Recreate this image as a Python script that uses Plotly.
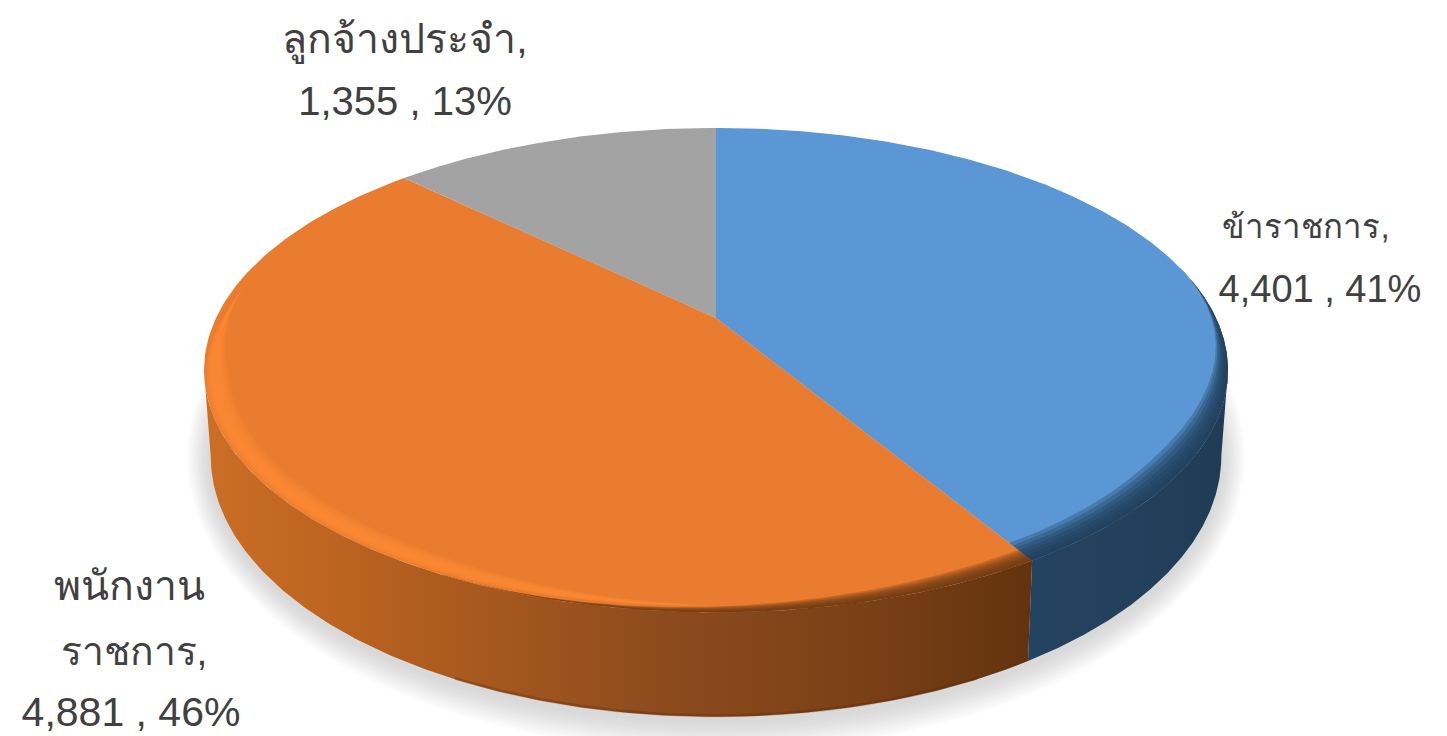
import numpy as np
import plotly.graph_objects as go

# ---- data ----
categories = ["ข้าราชการ", "พนักงานราชการ", "ลูกจ้างประจำ"]
values = [4401, 4881, 1355]

label_lines = [
    ["ข้าราชการ,"],
    ["พนักงาน", "ราชการ,"],
    ["ลูกจ้างประจำ,"],
]

# ---- styling / layout ----
W, H = 1447, 736
top_colors = ["#5A97D4", "#E97C2E", "#A3A3A3"]
side_scales = [
    [[0, "#244360"], [0.75, "#223F5A"], [1, "#1F3B55"]],
    [[0, "#CC6E25"], [0.22, "#B5601F"], [0.55, "#8D4B1D"], [0.8, "#7A4016"], [1, "#62330F"]],
    [[0, "#636363"], [1, "#636363"]],
]
label_xy = [
    [(1306, 230), (1320, 292)],
    [(129, 590), (134, 655), (131, 716)],
    [(405, 43), (405, 105)],
]
label_sizes = [
    [33, 38],
    [41, 39, 41],
    [41, 40],
]
CX, CY, A, B, K, DEPTH = 716, 318, 500, 231, 0.215, 82
FONT = "Liberation Sans, Noto Sans, sans-serif"


def rim(theta, r=1.0):
    u, v = r * np.sin(theta), r * np.cos(theta)
    w = 1 + K * v
    return CX + A * u / w, CY - B * v / w


def lower(theta):
    x, y = rim(theta)
    w = 1 + K * np.cos(theta)
    return CX + (x - CX) * 0.987, y + DEPTH / w


def smooth(s):
    s = np.clip(s, 0, 1)
    return s * s * (3 - 2 * s)


def band(t, r_out, r_in, color):
    xo, yo = rim(t, r_out)
    xi, yi = rim(t, r_in)
    fig.add_trace(go.Scatter(
        x=np.concatenate([xo, xi[::-1]]), y=np.concatenate([yo, yi[::-1]]),
        mode="lines", fill="toself", line_width=0, fillcolor=color, hoverinfo="skip"))


total = sum(values)
edges = np.concatenate([[0], np.cumsum(values)]) / total * 2 * np.pi
sil_r = np.arccos(-K)
sil_l = 2 * np.pi - sil_r

fig = go.Figure()

# soft ground shadow beneath the disc
all_t = np.linspace(0, 2 * np.pi, 361)
bx, by = lower(all_t)
for grow in np.linspace(32, 2, 14):
    sx = CX + (bx - CX) * (1 + grow * 0.75 / 510)
    sy = 480 + (by - 480) * (1 + grow / 240) + 4
    fig.add_trace(go.Scatter(x=sx, y=sy, mode="lines", fill="toself", line_width=0,
                             fillcolor="rgba(172,172,172,0.035)", hoverinfo="skip"))

# extruded side walls
for i in range(len(values)):
    t0, t1 = max(edges[i], sil_r), min(edges[i + 1], sil_l)
    if t1 <= t0:
        continue
    t = np.linspace(t0, t1, 160)
    xt, yt = rim(t)
    xb, yb = lower(t)
    fig.add_trace(go.Scatter(
        x=np.concatenate([xt, xb[::-1]]), y=np.concatenate([yt, yb[::-1]]),
        mode="lines", fill="toself", line_width=0,
        fillgradient=dict(type="horizontal", colorscale=side_scales[i]),
        hoverinfo="skip"))

# darker lip along the bottom edge of the orange wall (front centre only)
xb, yb = lower(np.linspace(np.pi * 0.86, np.pi * 1.14, 120))
fig.add_trace(go.Scatter(x=xb, y=yb - 1, mode="lines",
                         line=dict(width=3, color="rgba(90,40,8,0.3)"), hoverinfo="skip"))

# top faces
for i in range(len(values)):
    t = np.linspace(edges[i], edges[i + 1], 200)
    x, y = rim(t)
    fig.add_trace(go.Scatter(
        x=np.concatenate([[CX], x, [CX]]), y=np.concatenate([[CY], y, [CY]]),
        mode="lines", fill="toself", line_width=0, fillcolor=top_colors[i],
        hovertemplate=f"{categories[i]}: {values[i]:,}<extra></extra>"))

# soft bevel: blue rim fades into its dark wall
t = np.linspace(sil_r - 0.45, edges[1], 240)
taper = smooth((t - (sil_r - 0.45)) / 0.95)
for j in range(1, 8):
    band(t, 1.0 * np.ones_like(t), 1 - 0.06 * (j / 7) * taper, "rgba(31,59,85,0.3)")

# soft bevel: orange front fades into its dark wall
t = np.linspace(edges[1], edges[1] + 1.0, 240)
taper = 1 - smooth((t - edges[1]) / 1.0)
for j in range(1, 8):
    band(t, 1.0 * np.ones_like(t), 1 - 0.036 * (j / 7) * taper, "rgba(105,55,18,0.27)")

# bright bevel highlight round the orange left/front rim
t = np.linspace(edges[1] + 0.45, sil_l + 0.4, 300)
taper = smooth((t - t[0]) / 0.7) * smooth((t[-1] - t) / 0.5)
centre = 0.982
for j in range(1, 6):
    h = 0.028 * (j / 5) * taper
    band(t, centre + h * 0.6, centre - h, "rgba(255,140,52,0.3)")

# data labels
for i in range(len(values)):
    pct = round(values[i] / total * 100)
    lines = label_lines[i] + [f"{values[i]:,} , {pct}%"]
    fig.add_trace(go.Scatter(
        x=[p[0] for p in label_xy[i]], y=[p[1] for p in label_xy[i]],
        text=lines, mode="text", textposition="middle center",
        textfont=dict(family=FONT, size=label_sizes[i], color="#404040"),
        cliponaxis=False, hoverinfo="skip"))

fig.update_layout(
    width=W, height=H, margin=dict(l=0, r=0, t=0, b=0),
    showlegend=False, paper_bgcolor="white", plot_bgcolor="white",
    xaxis=dict(range=[0, W], visible=False, fixedrange=True),
    yaxis=dict(range=[H, 0], visible=False, fixedrange=True),
)
fig.write_html("out.html", config={"displayModeBar": False},
               post_script="document.body.style.margin='0';document.body.style.overflow='hidden';")
